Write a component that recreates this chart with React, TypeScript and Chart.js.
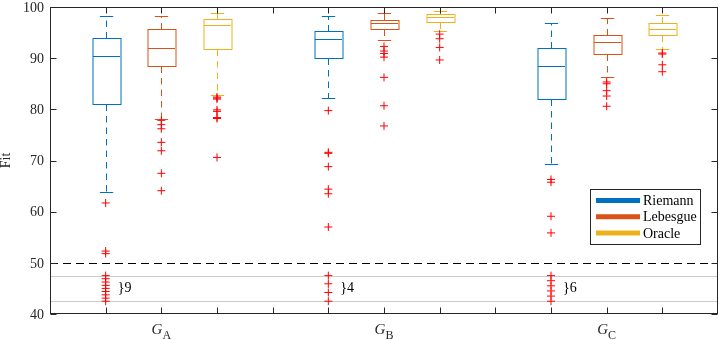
import React, { useEffect, useRef } from 'react';
import { Chart, registerables } from 'chart.js';
Chart.register(...registerables);

const groups = ['A', 'B', 'C'];
const methods = ['Riemann', 'Lebesgue', 'Oracle'];
const methodColors = ['#0072BD', '#D95319', '#EDB120'];
const yTicks = [40, 50, 60, 70, 80, 90, 100];
const xTicks = [1, 2, 3, 4, 5, 6, 7, 8, 9, 10, 11];
const groupCenters = [2, 6, 10];
// [lower whisker, Q1, median, Q3, upper whisker] per group
const riemannStats = [
  [63.9, 81.05, 90.5, 93.9, 98.3],
  [82.3, 90.1, 93.7, 95.4, 98.2],
  [69.25, 81.95, 88.4, 91.9, 96.9],
];
const lebesgueStats = [
  [78.2, 88.5, 92.0, 95.7, 98.3],
  [93.5, 95.7, 96.9, 97.4, 98.75],
  [86.3, 90.9, 93.2, 94.5, 97.85],
];
const oracleStats = [
  [82.8, 91.7, 96.5, 97.7, 98.9],
  [95.3, 97.1, 98.05, 98.55, 99.2],
  [91.8, 94.6, 95.7, 96.9, 98.45],
];
const riemannOutliers = [
  [61.7, 52.3, 51.8, 47.5, 46.9, 46.25, 45.6, 45.0, 44.4, 43.75, 43.1, 42.5],
  [79.75, 71.6, 71.4, 68.8, 64.4, 63.5, 57.0, 47.5, 45.9, 44.2, 42.5],
  [66.3, 65.75, 59.1, 55.85, 47.5, 46.5, 45.5, 44.5, 43.5, 42.5],
];
const lebesgueOutliers = [
  [77.85, 77.0, 76.2, 73.55, 71.9, 67.5, 64.1],
  [92.3, 91.4, 90.9, 90.2, 86.25, 80.7, 76.75],
  [85.35, 85.0, 83.65, 82.6, 80.6],
];
const oracleOutliers = [
  [82.4, 82.2, 82.0, 79.9, 79.6, 78.4, 78.2, 70.6],
  [94.7, 93.8, 92.1, 89.65],
  [91.0, 90.8, 88.7, 87.35],
];
const hiddenCounts = [9, 4, 6];
const hiddenLabelValue = 45;
const cutLine = 50;
const bandLines = [47.5, 42.5];

const allStats = [riemannStats, lebesgueStats, oracleStats];
const allOutliers = [riemannOutliers, lebesgueOutliers, oracleOutliers];
const posOf = (g: number, m: number) => 1 + 4 * g + m;

const FONT = '"Liberation Serif", "Times New Roman", serif';
const AXIS = '#262626';

const boxPlugin = {
  id: 'boxes',
  beforeDatasetsDraw(chart: any) {
    const { ctx, chartArea: a, scales } = chart;
    const x = scales.x, y = scales.y;
    ctx.save();
    const hline = (v: number) => {
      const py = Math.round(y.getPixelForValue(v)) + 0.5;
      ctx.beginPath();
      ctx.moveTo(a.left, py);
      ctx.lineTo(a.right, py);
      ctx.stroke();
    };
    ctx.lineWidth = 1;
    ctx.strokeStyle = '#cccccc';
    bandLines.forEach(hline);
    ctx.strokeStyle = '#000000';
    ctx.setLineDash([8, 5]);
    hline(cutLine);
    ctx.setLineDash([]);

    const hw = x.getPixelForValue(0.25) - x.getPixelForValue(0);
    const cw = x.getPixelForValue(0.12) - x.getPixelForValue(0);
    allStats.forEach((stats, m) => {
      stats.forEach((s, g) => {
        const cx = Math.round(x.getPixelForValue(posOf(g, m))) + 0.5;
        const [lo, q1, med, q3, hi] = s.map((v) => Math.round(y.getPixelForValue(v)) + 0.5);
        ctx.strokeStyle = methodColors[m];
        ctx.lineWidth = 1;
        ctx.setLineDash([6.5, 5]);
        ctx.beginPath();
        ctx.moveTo(cx, q3);
        ctx.lineTo(cx, hi);
        ctx.moveTo(cx, q1);
        ctx.lineTo(cx, lo);
        ctx.stroke();
        ctx.setLineDash([]);
        ctx.beginPath();
        ctx.moveTo(cx - cw, hi);
        ctx.lineTo(cx + cw, hi);
        ctx.moveTo(cx - cw, lo);
        ctx.lineTo(cx + cw, lo);
        ctx.stroke();
        ctx.fillStyle = '#ffffff';
        ctx.fillRect(Math.round(cx - hw), q3, Math.round(2 * hw), q1 - q3);
        ctx.strokeRect(Math.round(cx - hw), q3, Math.round(2 * hw), q1 - q3);
        ctx.beginPath();
        ctx.moveTo(Math.round(cx - hw), med);
        ctx.lineTo(Math.round(cx + hw), med);
        ctx.stroke();
      });
    });
    ctx.restore();
  },
  afterDraw(chart: any) {
    const { ctx, chartArea: a, scales } = chart;
    const x = scales.x, y = scales.y;
    ctx.save();
    const L = Math.round(a.left) + 0.5;
    const R = Math.round(a.right) - 0.5;
    const T = Math.round(a.top) + 0.5;
    const B = Math.round(a.bottom) - 0.5;
    ctx.strokeStyle = AXIS;
    ctx.lineWidth = 1;
    ctx.strokeRect(L, T, R - L, B - T);
    const tl = 6;
    ctx.beginPath();
    yTicks.forEach((v) => {
      const py = Math.round(y.getPixelForValue(v)) + 0.5;
      ctx.moveTo(L, py);
      ctx.lineTo(L + tl, py);
      ctx.moveTo(R, py);
      ctx.lineTo(R - tl, py);
    });
    xTicks.forEach((v) => {
      const px = Math.round(x.getPixelForValue(v)) + 0.5;
      ctx.moveTo(px, B);
      ctx.lineTo(px, B - tl);
      ctx.moveTo(px, T);
      ctx.lineTo(px, T + tl);
    });
    ctx.stroke();

    ctx.fillStyle = AXIS;
    ctx.font = `14px ${FONT}`;
    ctx.textAlign = 'right';
    ctx.textBaseline = 'middle';
    yTicks.forEach((v) => {
      ctx.fillText(String(v), a.left - 6, y.getPixelForValue(v) + 1);
    });

    ctx.save();
    ctx.translate(6, (a.top + a.bottom) / 2);
    ctx.rotate(-Math.PI / 2);
    ctx.textAlign = 'center';
    ctx.textBaseline = 'middle';
    ctx.font = `14px ${FONT}`;
    ctx.fillText('Fit', 0, 0);
    ctx.restore();

    groups.forEach((gname, g) => {
      const px = x.getPixelForValue(groupCenters[g]);
      ctx.font = `italic 15px ${FONT}`;
      const wG = ctx.measureText('G').width;
      ctx.font = `12px ${FONT}`;
      const wS = ctx.measureText(gname).width;
      const start = px - (wG + wS) / 2;
      ctx.textAlign = 'left';
      ctx.textBaseline = 'alphabetic';
      ctx.font = `italic 15px ${FONT}`;
      ctx.fillText('G', start, a.bottom + 20);
      ctx.font = `12px ${FONT}`;
      ctx.fillText(gname, start + wG, a.bottom + 24.5);
    });

    ctx.fillStyle = '#000';
    ctx.font = `14px ${FONT}`;
    ctx.textAlign = 'left';
    ctx.textBaseline = 'middle';
    hiddenCounts.forEach((n, g) => {
      const px = x.getPixelForValue(posOf(g, 0)) + 12;
      ctx.fillText('}' + n, px, y.getPixelForValue(hiddenLabelValue));
    });

    const lx = 590.5, ly = 189.5, lw = 110, lh = 55;
    ctx.fillStyle = '#ffffff';
    ctx.fillRect(lx, ly, lw, lh);
    ctx.strokeStyle = AXIS;
    ctx.lineWidth = 1;
    ctx.strokeRect(lx, ly, lw, lh);
    methods.forEach((name, m) => {
      const cy = 200.5 + m * 16.3;
      ctx.strokeStyle = methodColors[m];
      ctx.lineWidth = 5;
      ctx.beginPath();
      ctx.moveTo(596, cy);
      ctx.lineTo(640, cy);
      ctx.stroke();
      ctx.fillStyle = '#000';
      ctx.font = `14px ${FONT}`;
      ctx.textAlign = 'left';
      ctx.textBaseline = 'middle';
      ctx.fillText(name, 643, cy + 1);
    });
    ctx.restore();
  },
};

export default function App() {
  const ref = useRef<HTMLCanvasElement | null>(null);
  useEffect(() => {
    if (!ref.current) return;
    const datasets = methods.map((name, m) => ({
      label: name,
      data: allOutliers[m].flatMap((vals, g) => vals.map((v) => ({ x: posOf(g, m), y: v }))),
      pointStyle: 'cross' as const,
      pointRadius: 4,
      pointBorderWidth: 1,
      borderColor: '#FF0000',
      backgroundColor: '#FF0000',
      showLine: false,
    }));
    const chart = new Chart(ref.current, {
      type: 'scatter',
      data: { datasets },
      options: {
        responsive: false,
        animation: false,
        events: [],
        layout: { padding: { left: 50, right: 1, top: 7, bottom: 26 } },
        scales: {
          x: { type: 'linear', min: 0, max: 12, display: false },
          y: { type: 'linear', min: 40, max: 100, display: false },
        },
        plugins: { legend: { display: false }, tooltip: { enabled: false } },
      },
      plugins: [boxPlugin],
    });
    return () => chart.destroy();
  }, []);
  return (
    <div style={{ position: 'fixed', left: 0, top: 0, width: 723, height: 340, background: '#fff' }}>
      <canvas ref={ref} width={723} height={340} style={{ width: 723, height: 340, display: 'block' }} />
    </div>
  );
}
